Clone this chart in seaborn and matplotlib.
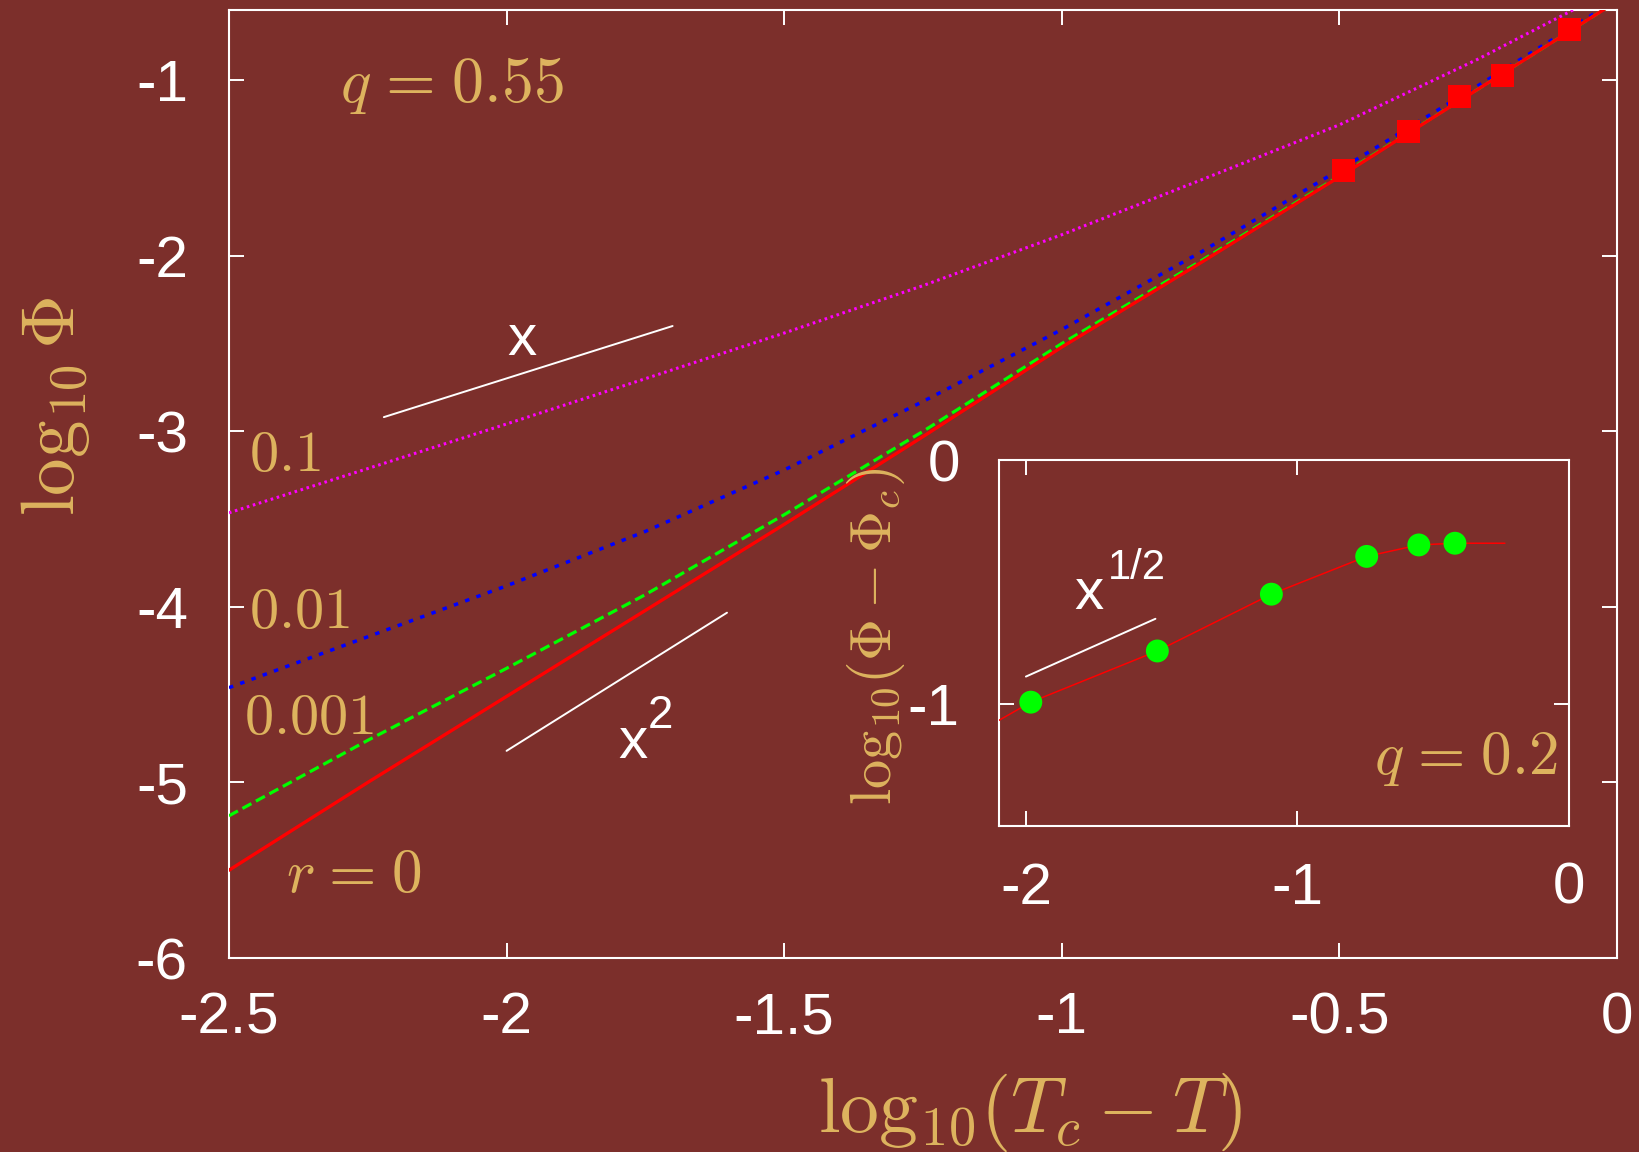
import numpy as np
import pandas as pd
import matplotlib
matplotlib.use("Agg")
import matplotlib.pyplot as plt
import seaborn as sns

# ---- data -------------------------------------------------------------
log_dt = [-2.5, -2.25, -2.0, -1.75, -1.5, -1.25, -1.0, -0.75, -0.5, -0.25, 0.0]
phi_r0 = [-5.50, -5.00, -4.51, -4.02, -3.53, -3.03, -2.52, -2.04, -1.55, -1.05, -0.55]
phi_r0001 = [-5.19, -4.76, -4.35, -3.93, -3.475, -3.00, -2.50, -2.03, -1.545, -1.05, -0.55]
phi_r001 = [-4.46, -4.17, -3.88, -3.57, -3.22, -2.83, -2.42, -1.98, -1.51, -1.03, -0.54]
phi_r01 = [-3.464, -3.212, -2.958, -2.70, -2.44, -2.17, -1.88, -1.569, -1.254, -0.879, -0.47]

sim_dt = [-0.493, -0.376, -0.284, -0.207, -0.086]
sim_phi = [-1.513, -1.291, -1.091, -0.972, -0.711]

# guide slopes
guide_x1_dt = [-2.221, -1.701]
guide_x1_phi = [-2.919, -2.400]
guide_x2_dt = [-2.0, -1.603]
guide_x2_phi = [-4.82, -4.033]

# inset, q = 0.2
inset_dt = [-1.982, -1.516, -1.096, -0.745, -0.553, -0.420]
inset_dphi = [-0.993, -0.783, -0.550, -0.395, -0.348, -0.341]
inset_fit_dt = [-2.1, -1.982, -1.516, -1.096, -0.745, -0.553, -0.420, -0.236]
inset_fit_dphi = [-1.068, -0.993, -0.783, -0.550, -0.395, -0.348, -0.341, -0.341]
guide_half_dt = [-2.0, -1.523]
guide_half_dphi = [-0.888, -0.651]

main_xticks = [-2.5, -2.0, -1.5, -1.0, -0.5, 0.0]
main_xticklabels = ["-2.5", "-2", "-1.5", "-1", "-0.5", "0"]
main_yticks = [-6, -5, -4, -3, -2, -1]
main_yticklabels = ["-6", "-5", "-4", "-3", "-2", "-1"]
inset_xticks = [-2, -1, 0]
inset_xticklabels = ["-2", "-1", "0"]
inset_yticks = [-1, 0]
inset_yticklabels = ["-1", "0"]

# ---- style ------------------------------------------------------------
BG = "#7C2F2B"
GOLD = "#DDB35E"
WHITE = "#FFFFFF"

sns.set_style("ticks")
plt.rcParams["font.family"] = ["Liberation Sans", "DejaVu Sans"]
plt.rcParams["mathtext.fontset"] = "cm"
plt.rcParams["axes.unicode_minus"] = False

fig = plt.figure(figsize=(16.4, 11.52), dpi=100, facecolor=BG)
ax = fig.add_axes([0.1396, 0.1684, 0.8464, 0.8229])
ins = fig.add_axes([0.609, 0.2832, 0.3477, 0.3174])


def style_axes(a, xt, xtl, yt, ytl, xpad, ypad):
    a.set_facecolor(BG)
    for sp in a.spines.values():
        sp.set_color(WHITE)
        sp.set_linewidth(1.5)
        sp.set_visible(True)
    a.set_xticks(xt)
    a.set_xticklabels(xtl)
    a.set_yticks(yt)
    a.set_yticklabels(ytl)
    a.tick_params(axis="both", which="both", direction="in", length=10.8, width=1.4,
                  colors=WHITE, labelsize=42, top=True, right=True)
    a.tick_params(axis="x", pad=xpad)
    a.tick_params(axis="y", pad=ypad)
    a.set_xlabel("")
    a.set_ylabel("")


# ---- main panel -------------------------------------------------------
curves = pd.DataFrame({"dt": log_dt, "r0": phi_r0, "r0001": phi_r0001,
                       "r001": phi_r001, "r01": phi_r01})

sns.lineplot(data=curves, x="dt", y="r01", ax=ax, color="#FF00FF", lw=2.2,
             linestyle=(0, (0.85, 1.2)), zorder=3)
sns.lineplot(data=curves, x="dt", y="r001", ax=ax, color="#0000FF", lw=2.5,
             linestyle=(0, (1.3, 2.15)), zorder=3)
sns.lineplot(data=curves, x="dt", y="r0001", ax=ax, color="#00FF00", lw=2.3,
             linestyle=(0, (3.2, 1.6)), zorder=3)
sns.lineplot(data=curves, x="dt", y="r0", ax=ax, color="#FF0000", lw=2.4, zorder=4)
sns.scatterplot(x=sim_dt, y=sim_phi, ax=ax, marker="s", s=275, color="#FF0000",
                edgecolor="none", linewidth=0, zorder=5)

sns.lineplot(x=guide_x1_dt, y=guide_x1_phi, ax=ax, color=WHITE, lw=1.4)
sns.lineplot(x=guide_x2_dt, y=guide_x2_phi, ax=ax, color=WHITE, lw=1.4)

ax.set_xlim(-2.5, 0)
ax.set_ylim(-6, -0.6)
style_axes(ax, main_xticks, main_xticklabels, main_yticks, main_yticklabels, 24, 29.5)

ax.text(-1.973, -2.481, "x", color=WHITE, fontsize=42, ha="center", va="center")
ax.text(-1.799, -4.863, "x", color=WHITE, fontsize=42, ha="left", va="baseline")
ax.text(-1.745, -4.690, "2", color=WHITE, fontsize=33, ha="left", va="baseline")

ax.text(-2.463, -3.225, r"$0.1$", color=GOLD, fontsize=42, ha="left", va="baseline")
ax.text(-2.463, -4.122, r"$0.01$", color=GOLD, fontsize=42, ha="left", va="baseline")
ax.text(-2.473, -4.724, r"$0.001$", color=GOLD, fontsize=42, ha="left", va="baseline")
ax.text(-2.397, -5.622, r"$r\hspace{0.08}=\hspace{0.08}0$", color=GOLD, fontsize=44,
        ha="left", va="baseline")
ax.text(-2.300, -1.124, r"$q\hspace{0.1}=\hspace{0.1}0.55$", color=GOLD, fontsize=46,
        ha="left", va="baseline")

fig.text(0.628, 0.0176, r"$\mathrm{log}_{10}(T_c-T)$", color=GOLD, fontsize=56,
         ha="center", va="baseline")
fig.text(0.034, 0.6476, r"$\log_{10}\Phi$", color=GOLD, fontsize=54,
         rotation=90, ha="center", va="center")

# ---- inset ------------------------------------------------------------
sns.lineplot(x=inset_fit_dt, y=inset_fit_dphi, ax=ins, color="#FF0000", lw=1.1,
             sort=False, zorder=3)
sns.scatterplot(x=inset_dt, y=inset_dphi, ax=ins, s=272, color="#00FF00",
                edgecolor="none", linewidth=0, zorder=4)
sns.lineplot(x=guide_half_dt, y=guide_half_dphi, ax=ins, color=WHITE, lw=1.4)

ins.set_xlim(-2.1, 0)
ins.set_ylim(-1.5, 0)
style_axes(ins, inset_xticks, inset_xticklabels, inset_yticks, inset_yticklabels, 26, 28)

ins.text(-1.822, -0.610, "x", color=WHITE, fontsize=42, ha="left", va="baseline")
ins.text(-1.699, -0.486, "1/2", color=WHITE, fontsize=30, ha="left", va="baseline")
ins.text(-0.718, -1.288, r"$q\hspace{0.1}=\hspace{0.1}0.2$", color=GOLD, fontsize=44,
         ha="left", va="baseline")

fig.text(0.534, 0.448, r"$\mathrm{log}_{10}(\Phi-\Phi_c)$", color=GOLD, fontsize=42,
         rotation=90, ha="center", va="center")

fig.savefig("out.png", dpi=100, facecolor=BG)
